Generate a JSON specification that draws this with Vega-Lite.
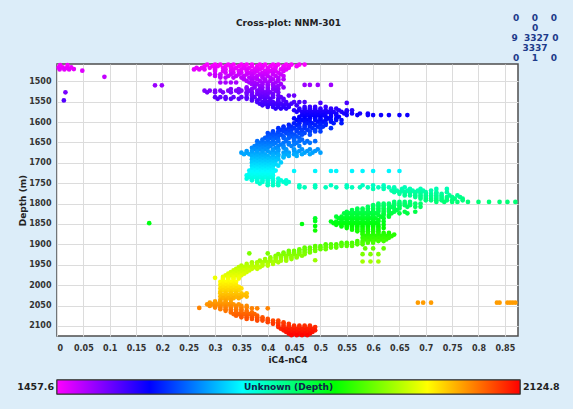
{
"$schema":"https://vega.github.io/schema/vega-lite/v6.json",
"background":"#dcedf9",
"padding":{"left":16,"top":13,"right":12,"bottom":15},
"title":{"text":"Cross-plot: NNM-301","anchor":"middle","offset":-15,"font":"DejaVu Sans","fontSize":9,"fontWeight":"bold","color":"#222222"},
"bounds":"flush",
"spacing":44,
"vconcat":[
{
"width":461,"height":272,
"title":{"text":["0\u00a0\u00a0\u00a0\u00a00\u00a0\u00a0\u00a0\u00a00","0","9\u00a0\u00a03327\u00a00","3337","0\u00a0\u00a0\u00a0\u00a01\u00a0\u00a0\u00a0\u00a00"],"anchor":"end","align":"center","dx":17,"offset":-1,"lineHeight":10,"font":"DejaVu Sans","fontSize":9,"fontWeight":"bold","color":"#1d3a8a"},
"data":{"values":[
{"x":0.006,"d":1460},{"x":0.02,"d":1460},{"x":0.003,"d":1466},{"x":0.011,"d":1466},{"x":0.019,"d":1467},{"x":0.027,"d":1466},{"x":0.005,"d":1471},{"x":0.014,"d":1471},{"x":0.023,"d":1471},{"x":0.032,"d":1470},{"x":0.048,"d":1474},{"x":0.09,"d":1489},{"x":0.016,"d":1527},{"x":0.013,"d":1547},{"x":0.186,"d":1510},{"x":0.199,"d":1510},
{"x":0.285,"d":1459},{"x":0.3,"d":1459},{"x":0.31,"d":1459},{"x":0.325,"d":1459},{"x":0.335,"d":1459},{"x":0.35,"d":1459},{"x":0.36,"d":1459},{"x":0.37,"d":1459},{"x":0.385,"d":1459},{"x":0.395,"d":1459},{"x":0.41,"d":1459},{"x":0.42,"d":1459},{"x":0.435,"d":1459},{"x":0.445,"d":1459},{"x":0.46,"d":1459},{"x":0.47,"d":1459},
{"x":0.28,"d":1463},{"x":0.295,"d":1463},{"x":0.305,"d":1463},{"x":0.32,"d":1463},{"x":0.33,"d":1463},{"x":0.345,"d":1463},{"x":0.355,"d":1463},{"x":0.37,"d":1463},{"x":0.38,"d":1463},{"x":0.39,"d":1463},{"x":0.405,"d":1463},{"x":0.415,"d":1463},{"x":0.43,"d":1463},{"x":0.44,"d":1463},{"x":0.455,"d":1463},
{"x":0.265,"d":1467},{"x":0.275,"d":1467},{"x":0.29,"d":1467},{"x":0.3,"d":1467},{"x":0.315,"d":1467},{"x":0.33,"d":1467},{"x":0.34,"d":1467},{"x":0.355,"d":1467},{"x":0.365,"d":1467},{"x":0.38,"d":1467},{"x":0.39,"d":1467},{"x":0.4,"d":1467},{"x":0.415,"d":1467},{"x":0.43,"d":1467},{"x":0.44,"d":1467},
{"x":0.26,"d":1471},{"x":0.27,"d":1471},{"x":0.28,"d":1471},{"x":0.3,"d":1471},{"x":0.32,"d":1471},{"x":0.335,"d":1471},{"x":0.35,"d":1471},{"x":0.36,"d":1471},{"x":0.375,"d":1471},{"x":0.385,"d":1471},{"x":0.4,"d":1471},{"x":0.41,"d":1471},{"x":0.425,"d":1471},{"x":0.435,"d":1471},
{"x":0.3,"d":1475},{"x":0.315,"d":1475},{"x":0.33,"d":1475},{"x":0.345,"d":1475},{"x":0.36,"d":1475},{"x":0.37,"d":1475},{"x":0.38,"d":1475},{"x":0.395,"d":1475},{"x":0.405,"d":1475},{"x":0.415,"d":1475},{"x":0.43,"d":1475},
{"x":0.32,"d":1479},{"x":0.335,"d":1479},{"x":0.35,"d":1479},{"x":0.365,"d":1479},{"x":0.375,"d":1479},{"x":0.39,"d":1479},{"x":0.4,"d":1479},{"x":0.41,"d":1479},{"x":0.42,"d":1479},
{"x":0.29,"d":1483},{"x":0.3,"d":1483},{"x":0.31,"d":1483},{"x":0.33,"d":1483},{"x":0.345,"d":1483},{"x":0.36,"d":1483},{"x":0.37,"d":1483},{"x":0.385,"d":1483},{"x":0.395,"d":1483},{"x":0.41,"d":1483},{"x":0.425,"d":1483},
{"x":0.3,"d":1487},{"x":0.31,"d":1487},{"x":0.325,"d":1487},{"x":0.34,"d":1487},{"x":0.355,"d":1487},{"x":0.37,"d":1487},{"x":0.38,"d":1487},{"x":0.39,"d":1487},{"x":0.4,"d":1487},{"x":0.415,"d":1487},{"x":0.43,"d":1487},
{"x":0.31,"d":1491},{"x":0.32,"d":1491},{"x":0.335,"d":1491},{"x":0.35,"d":1491},{"x":0.365,"d":1491},{"x":0.375,"d":1491},{"x":0.39,"d":1491},{"x":0.405,"d":1491},{"x":0.42,"d":1491},
{"x":0.355,"d":1495},{"x":0.37,"d":1495},{"x":0.38,"d":1495},{"x":0.395,"d":1495},{"x":0.41,"d":1495},{"x":0.42,"d":1495},{"x":0.43,"d":1495},
{"x":0.36,"d":1499},{"x":0.37,"d":1499},{"x":0.385,"d":1499},{"x":0.395,"d":1499},{"x":0.405,"d":1499},{"x":0.42,"d":1499},
{"x":0.31,"d":1503},{"x":0.32,"d":1503},{"x":0.33,"d":1503},{"x":0.34,"d":1503},{"x":0.365,"d":1503},{"x":0.375,"d":1503},{"x":0.39,"d":1503},{"x":0.4,"d":1503},{"x":0.415,"d":1503},
{"x":0.37,"d":1507},{"x":0.38,"d":1507},{"x":0.39,"d":1507},{"x":0.4,"d":1507},{"x":0.41,"d":1507},{"x":0.425,"d":1507},{"x":0.47,"d":1509},{"x":0.48,"d":1509},{"x":0.495,"d":1509},{"x":0.52,"d":1509},
{"x":0.375,"d":1511},{"x":0.385,"d":1511},{"x":0.4,"d":1511},{"x":0.41,"d":1511},{"x":0.42,"d":1511},
{"x":0.36,"d":1515},{"x":0.375,"d":1515},{"x":0.39,"d":1515},{"x":0.4,"d":1515},{"x":0.415,"d":1515},{"x":0.43,"d":1515},
{"x":0.33,"d":1519},{"x":0.345,"d":1519},{"x":0.36,"d":1519},{"x":0.37,"d":1519},{"x":0.385,"d":1519},{"x":0.4,"d":1519},{"x":0.41,"d":1519},{"x":0.42,"d":1519},
{"x":0.28,"d":1523},{"x":0.29,"d":1523},{"x":0.3,"d":1523},{"x":0.31,"d":1523},{"x":0.325,"d":1523},{"x":0.34,"d":1523},{"x":0.35,"d":1523},{"x":0.365,"d":1523},{"x":0.38,"d":1523},{"x":0.39,"d":1523},{"x":0.4,"d":1523},{"x":0.415,"d":1523},
{"x":0.285,"d":1527},{"x":0.3,"d":1527},{"x":0.315,"d":1527},{"x":0.33,"d":1527},{"x":0.345,"d":1527},{"x":0.36,"d":1527},{"x":0.37,"d":1527},{"x":0.385,"d":1527},{"x":0.395,"d":1527},{"x":0.405,"d":1527},{"x":0.42,"d":1527},
{"x":0.36,"d":1531},{"x":0.37,"d":1531},{"x":0.38,"d":1531},{"x":0.39,"d":1531},{"x":0.4,"d":1531},{"x":0.41,"d":1531},
{"x":0.37,"d":1535},{"x":0.385,"d":1535},{"x":0.395,"d":1535},{"x":0.41,"d":1535},{"x":0.42,"d":1535},{"x":0.44,"d":1535},{"x":0.45,"d":1535},
{"x":0.3,"d":1539},{"x":0.31,"d":1539},{"x":0.32,"d":1539},{"x":0.335,"d":1539},{"x":0.35,"d":1539},{"x":0.36,"d":1539},{"x":0.375,"d":1539},{"x":0.39,"d":1539},{"x":0.4,"d":1539},{"x":0.41,"d":1539},{"x":0.425,"d":1539},
{"x":0.305,"d":1543},{"x":0.32,"d":1543},{"x":0.33,"d":1543},{"x":0.345,"d":1543},{"x":0.36,"d":1543},{"x":0.37,"d":1543},{"x":0.385,"d":1543},{"x":0.395,"d":1543},{"x":0.405,"d":1543},{"x":0.42,"d":1543},{"x":0.43,"d":1543},
{"x":0.37,"d":1547},{"x":0.38,"d":1547},{"x":0.395,"d":1547},{"x":0.405,"d":1547},{"x":0.42,"d":1547},{"x":0.43,"d":1547},
{"x":0.38,"d":1551},{"x":0.39,"d":1551},{"x":0.4,"d":1551},{"x":0.41,"d":1551},{"x":0.42,"d":1551},{"x":0.435,"d":1551},{"x":0.45,"d":1551},{"x":0.46,"d":1551},{"x":0.47,"d":1551},{"x":0.5,"d":1553},{"x":0.55,"d":1553},
{"x":0.385,"d":1555},{"x":0.395,"d":1555},{"x":0.405,"d":1555},{"x":0.415,"d":1555},{"x":0.425,"d":1555},{"x":0.435,"d":1555},{"x":0.445,"d":1555},
{"x":0.39,"d":1559},{"x":0.4,"d":1559},{"x":0.41,"d":1559},{"x":0.42,"d":1559},{"x":0.43,"d":1559},{"x":0.44,"d":1559},{"x":0.455,"d":1559},
{"x":0.4,"d":1563},{"x":0.41,"d":1563},{"x":0.42,"d":1563},{"x":0.43,"d":1563},{"x":0.44,"d":1563},{"x":0.47,"d":1563},{"x":0.48,"d":1563},{"x":0.49,"d":1563},{"x":0.51,"d":1563},
{"x":0.415,"d":1567},{"x":0.425,"d":1567},{"x":0.435,"d":1567},{"x":0.46,"d":1567},{"x":0.47,"d":1567},{"x":0.48,"d":1567},{"x":0.49,"d":1567},{"x":0.5,"d":1567},{"x":0.52,"d":1567},{"x":0.53,"d":1567},
{"x":0.45,"d":1571},{"x":0.46,"d":1571},{"x":0.47,"d":1571},{"x":0.48,"d":1571},{"x":0.49,"d":1571},{"x":0.5,"d":1571},{"x":0.51,"d":1571},{"x":0.52,"d":1571},{"x":0.535,"d":1571},{"x":0.55,"d":1571},{"x":0.56,"d":1571},
{"x":0.455,"d":1575},{"x":0.465,"d":1575},{"x":0.475,"d":1575},{"x":0.485,"d":1575},{"x":0.495,"d":1575},{"x":0.505,"d":1575},{"x":0.515,"d":1575},{"x":0.525,"d":1575},{"x":0.54,"d":1575},{"x":0.55,"d":1575},
{"x":0.47,"d":1579},{"x":0.48,"d":1579},{"x":0.49,"d":1579},{"x":0.5,"d":1579},{"x":0.51,"d":1579},{"x":0.52,"d":1579},{"x":0.53,"d":1579},{"x":0.545,"d":1579},{"x":0.56,"d":1579},{"x":0.575,"d":1579},{"x":0.59,"d":1579},
{"x":0.465,"d":1583},{"x":0.475,"d":1583},{"x":0.485,"d":1583},{"x":0.495,"d":1583},{"x":0.505,"d":1583},{"x":0.52,"d":1583},{"x":0.53,"d":1583},{"x":0.55,"d":1583},{"x":0.57,"d":1583},{"x":0.59,"d":1583},{"x":0.6,"d":1583},{"x":0.615,"d":1583},{"x":0.63,"d":1583},{"x":0.65,"d":1583},{"x":0.665,"d":1583},
{"x":0.46,"d":1587},{"x":0.47,"d":1587},{"x":0.48,"d":1587},{"x":0.49,"d":1587},{"x":0.5,"d":1587},{"x":0.51,"d":1587},{"x":0.52,"d":1587},{"x":0.535,"d":1587},
{"x":0.45,"d":1591},{"x":0.46,"d":1591},{"x":0.47,"d":1591},{"x":0.48,"d":1591},{"x":0.49,"d":1591},{"x":0.5,"d":1591},{"x":0.515,"d":1591},{"x":0.53,"d":1591},
{"x":0.455,"d":1595},{"x":0.465,"d":1595},{"x":0.475,"d":1595},{"x":0.49,"d":1595},{"x":0.5,"d":1595},{"x":0.51,"d":1595},{"x":0.52,"d":1595},{"x":0.53,"d":1595},{"x":0.54,"d":1595},
{"x":0.46,"d":1599},{"x":0.47,"d":1599},{"x":0.48,"d":1599},{"x":0.495,"d":1599},{"x":0.505,"d":1599},{"x":0.52,"d":1599},
{"x":0.45,"d":1603},{"x":0.46,"d":1603},{"x":0.475,"d":1603},{"x":0.485,"d":1603},{"x":0.5,"d":1603},{"x":0.51,"d":1603},{"x":0.525,"d":1603},{"x":0.54,"d":1603},
{"x":0.44,"d":1607},{"x":0.455,"d":1607},{"x":0.47,"d":1607},{"x":0.48,"d":1607},{"x":0.49,"d":1607},{"x":0.5,"d":1607},{"x":0.51,"d":1607},
{"x":0.43,"d":1611},{"x":0.445,"d":1611},{"x":0.46,"d":1611},{"x":0.47,"d":1611},{"x":0.48,"d":1611},{"x":0.495,"d":1611},{"x":0.505,"d":1611},
{"x":0.42,"d":1615},{"x":0.43,"d":1615},{"x":0.44,"d":1615},{"x":0.45,"d":1615},{"x":0.46,"d":1615},{"x":0.47,"d":1615},{"x":0.485,"d":1615},{"x":0.5,"d":1615},{"x":0.52,"d":1615},
{"x":0.425,"d":1619},{"x":0.435,"d":1619},{"x":0.445,"d":1619},{"x":0.455,"d":1619},{"x":0.465,"d":1619},{"x":0.475,"d":1619},{"x":0.49,"d":1619},
{"x":0.41,"d":1623},{"x":0.42,"d":1623},{"x":0.43,"d":1623},{"x":0.44,"d":1623},{"x":0.455,"d":1623},{"x":0.465,"d":1623},{"x":0.48,"d":1623},{"x":0.49,"d":1623},{"x":0.5,"d":1623},
{"x":0.4,"d":1627},{"x":0.41,"d":1627},{"x":0.42,"d":1627},{"x":0.435,"d":1627},{"x":0.445,"d":1627},{"x":0.46,"d":1627},{"x":0.47,"d":1627},
{"x":0.405,"d":1631},{"x":0.415,"d":1631},{"x":0.425,"d":1631},{"x":0.44,"d":1631},{"x":0.45,"d":1631},{"x":0.465,"d":1631},{"x":0.48,"d":1631},
{"x":0.4,"d":1635},{"x":0.41,"d":1635},{"x":0.42,"d":1635},{"x":0.43,"d":1635},{"x":0.445,"d":1635},{"x":0.455,"d":1635},
{"x":0.395,"d":1639},{"x":0.405,"d":1639},{"x":0.415,"d":1639},{"x":0.43,"d":1639},{"x":0.44,"d":1639},{"x":0.45,"d":1639},{"x":0.46,"d":1639},
{"x":0.39,"d":1643},{"x":0.4,"d":1643},{"x":0.41,"d":1643},{"x":0.42,"d":1643},{"x":0.435,"d":1643},{"x":0.45,"d":1643},{"x":0.465,"d":1643},
{"x":0.38,"d":1647},{"x":0.39,"d":1647},{"x":0.4,"d":1647},{"x":0.41,"d":1647},{"x":0.42,"d":1647},{"x":0.435,"d":1647},{"x":0.45,"d":1647},{"x":0.46,"d":1647},{"x":0.475,"d":1647},{"x":0.49,"d":1647},
{"x":0.385,"d":1651},{"x":0.395,"d":1651},{"x":0.405,"d":1651},{"x":0.415,"d":1651},{"x":0.43,"d":1651},{"x":0.44,"d":1651},{"x":0.455,"d":1651},{"x":0.47,"d":1651},{"x":0.48,"d":1651},
{"x":0.38,"d":1655},{"x":0.39,"d":1655},{"x":0.4,"d":1655},{"x":0.41,"d":1655},{"x":0.425,"d":1655},{"x":0.44,"d":1655},{"x":0.45,"d":1655},
{"x":0.375,"d":1659},{"x":0.385,"d":1659},{"x":0.395,"d":1659},{"x":0.405,"d":1659},{"x":0.42,"d":1659},{"x":0.43,"d":1659},{"x":0.445,"d":1659},{"x":0.46,"d":1659},
{"x":0.37,"d":1663},{"x":0.38,"d":1663},{"x":0.39,"d":1663},{"x":0.4,"d":1663},{"x":0.415,"d":1663},{"x":0.43,"d":1663},
{"x":0.375,"d":1667},{"x":0.385,"d":1667},{"x":0.395,"d":1667},{"x":0.41,"d":1667},{"x":0.42,"d":1667},{"x":0.435,"d":1667},{"x":0.45,"d":1667},{"x":0.465,"d":1667},{"x":0.48,"d":1667},{"x":0.495,"d":1667},
{"x":0.36,"d":1671},{"x":0.37,"d":1671},{"x":0.38,"d":1671},{"x":0.39,"d":1671},{"x":0.4,"d":1671},{"x":0.41,"d":1671},{"x":0.42,"d":1671},{"x":0.435,"d":1671},{"x":0.45,"d":1671},{"x":0.46,"d":1671},{"x":0.475,"d":1671},{"x":0.49,"d":1671},
{"x":0.35,"d":1675},{"x":0.36,"d":1675},{"x":0.37,"d":1675},{"x":0.38,"d":1675},{"x":0.39,"d":1675},{"x":0.405,"d":1675},{"x":0.415,"d":1675},{"x":0.43,"d":1675},{"x":0.44,"d":1675},{"x":0.455,"d":1675},{"x":0.47,"d":1675},{"x":0.485,"d":1675},{"x":0.5,"d":1675},
{"x":0.355,"d":1679},{"x":0.365,"d":1679},{"x":0.375,"d":1679},{"x":0.385,"d":1679},{"x":0.395,"d":1679},{"x":0.41,"d":1679},{"x":0.42,"d":1679},{"x":0.435,"d":1679},{"x":0.45,"d":1679},{"x":0.465,"d":1679},{"x":0.48,"d":1679},
{"x":0.37,"d":1683},{"x":0.38,"d":1683},{"x":0.39,"d":1683},{"x":0.4,"d":1683},{"x":0.41,"d":1683},{"x":0.42,"d":1683},{"x":0.43,"d":1683},{"x":0.44,"d":1683},{"x":0.455,"d":1683},
{"x":0.375,"d":1687},{"x":0.385,"d":1687},{"x":0.395,"d":1687},{"x":0.405,"d":1687},{"x":0.415,"d":1687},{"x":0.43,"d":1687},
{"x":0.37,"d":1691},{"x":0.38,"d":1691},{"x":0.39,"d":1691},{"x":0.4,"d":1691},{"x":0.41,"d":1691},{"x":0.42,"d":1691},
{"x":0.375,"d":1695},{"x":0.385,"d":1695},{"x":0.395,"d":1695},{"x":0.405,"d":1695},{"x":0.415,"d":1695},
{"x":0.37,"d":1699},{"x":0.38,"d":1699},{"x":0.39,"d":1699},{"x":0.4,"d":1699},{"x":0.41,"d":1699},{"x":0.425,"d":1699},
{"x":0.375,"d":1703},{"x":0.385,"d":1703},{"x":0.395,"d":1703},{"x":0.405,"d":1703},{"x":0.415,"d":1703},
{"x":0.37,"d":1707},{"x":0.38,"d":1707},{"x":0.39,"d":1707},{"x":0.4,"d":1707},{"x":0.41,"d":1707},{"x":0.42,"d":1707},
{"x":0.375,"d":1711},{"x":0.385,"d":1711},{"x":0.395,"d":1711},{"x":0.405,"d":1711},
{"x":0.37,"d":1715},{"x":0.38,"d":1715},{"x":0.39,"d":1715},{"x":0.4,"d":1715},{"x":0.41,"d":1715},
{"x":0.365,"d":1719},{"x":0.375,"d":1719},{"x":0.385,"d":1719},{"x":0.395,"d":1719},{"x":0.405,"d":1719},{"x":0.415,"d":1719},{"x":0.45,"d":1720},{"x":0.49,"d":1720},{"x":0.52,"d":1720},{"x":0.53,"d":1720},{"x":0.56,"d":1720},{"x":0.58,"d":1720},{"x":0.6,"d":1720},{"x":0.63,"d":1720},{"x":0.65,"d":1720},
{"x":0.37,"d":1723},{"x":0.38,"d":1723},{"x":0.39,"d":1723},{"x":0.4,"d":1723},{"x":0.41,"d":1723},
{"x":0.365,"d":1727},{"x":0.375,"d":1727},{"x":0.385,"d":1727},{"x":0.395,"d":1727},{"x":0.405,"d":1727},
{"x":0.36,"d":1731},{"x":0.37,"d":1731},{"x":0.38,"d":1731},{"x":0.39,"d":1731},{"x":0.4,"d":1731},{"x":0.41,"d":1731},
{"x":0.365,"d":1735},{"x":0.375,"d":1735},{"x":0.385,"d":1735},{"x":0.395,"d":1735},{"x":0.405,"d":1735},
{"x":0.36,"d":1739},{"x":0.37,"d":1739},{"x":0.38,"d":1739},{"x":0.39,"d":1739},{"x":0.4,"d":1739},{"x":0.41,"d":1739},{"x":0.42,"d":1739},
{"x":0.37,"d":1743},{"x":0.38,"d":1743},{"x":0.39,"d":1743},{"x":0.4,"d":1743},{"x":0.41,"d":1743},{"x":0.425,"d":1743},{"x":0.435,"d":1743},
{"x":0.38,"d":1747},{"x":0.39,"d":1747},{"x":0.4,"d":1747},{"x":0.41,"d":1747},{"x":0.42,"d":1747},{"x":0.43,"d":1747},{"x":0.44,"d":1747},
{"x":0.385,"d":1751},{"x":0.4,"d":1751},{"x":0.41,"d":1751},{"x":0.42,"d":1751},{"x":0.435,"d":1751},
{"x":0.4,"d":1755},{"x":0.41,"d":1755},{"x":0.42,"d":1755},{"x":0.46,"d":1755},{"x":0.49,"d":1755},{"x":0.52,"d":1755},{"x":0.55,"d":1755},{"x":0.58,"d":1755},{"x":0.6,"d":1755},{"x":0.62,"d":1755},
{"x":0.46,"d":1760},{"x":0.47,"d":1760},{"x":0.49,"d":1760},{"x":0.51,"d":1760},{"x":0.53,"d":1760},{"x":0.55,"d":1760},{"x":0.56,"d":1760},{"x":0.575,"d":1760},{"x":0.59,"d":1760},{"x":0.61,"d":1760},{"x":0.62,"d":1760},{"x":0.63,"d":1760},{"x":0.64,"d":1760},{"x":0.66,"d":1760},
{"x":0.6,"d":1764},{"x":0.62,"d":1764},{"x":0.64,"d":1764},{"x":0.655,"d":1764},{"x":0.67,"d":1764},{"x":0.69,"d":1764},{"x":0.72,"d":1764},{"x":0.74,"d":1764},
{"x":0.635,"d":1768},{"x":0.645,"d":1768},{"x":0.655,"d":1768},{"x":0.665,"d":1768},{"x":0.675,"d":1768},{"x":0.685,"d":1768},{"x":0.695,"d":1768},{"x":0.71,"d":1768},
{"x":0.64,"d":1772},{"x":0.65,"d":1772},{"x":0.66,"d":1772},{"x":0.67,"d":1772},{"x":0.68,"d":1772},{"x":0.69,"d":1772},{"x":0.7,"d":1772},{"x":0.72,"d":1772},{"x":0.74,"d":1772},
{"x":0.65,"d":1776},{"x":0.66,"d":1776},{"x":0.67,"d":1776},{"x":0.68,"d":1776},{"x":0.69,"d":1776},{"x":0.7,"d":1776},{"x":0.71,"d":1776},{"x":0.72,"d":1776},{"x":0.73,"d":1776},
{"x":0.66,"d":1780},{"x":0.67,"d":1780},{"x":0.68,"d":1780},{"x":0.69,"d":1780},{"x":0.7,"d":1780},{"x":0.71,"d":1780},{"x":0.72,"d":1780},{"x":0.73,"d":1780},{"x":0.745,"d":1780},{"x":0.76,"d":1780},
{"x":0.68,"d":1784},{"x":0.69,"d":1784},{"x":0.7,"d":1784},{"x":0.71,"d":1784},{"x":0.72,"d":1784},{"x":0.73,"d":1784},{"x":0.74,"d":1784},{"x":0.75,"d":1784},{"x":0.765,"d":1784},
{"x":0.69,"d":1788},{"x":0.7,"d":1788},{"x":0.71,"d":1788},{"x":0.72,"d":1788},{"x":0.73,"d":1788},{"x":0.74,"d":1788},{"x":0.755,"d":1788},{"x":0.77,"d":1788},
{"x":0.7,"d":1792},{"x":0.71,"d":1792},{"x":0.72,"d":1792},{"x":0.73,"d":1792},{"x":0.74,"d":1792},{"x":0.75,"d":1792},{"x":0.77,"d":1792},
{"x":0.64,"d":1796},{"x":0.65,"d":1796},{"x":0.66,"d":1796},{"x":0.67,"d":1796},{"x":0.72,"d":1796},{"x":0.735,"d":1796},{"x":0.75,"d":1796},{"x":0.76,"d":1796},{"x":0.78,"d":1796},{"x":0.8,"d":1796},{"x":0.82,"d":1796},{"x":0.84,"d":1796},{"x":0.855,"d":1796},{"x":0.87,"d":1796},
{"x":0.61,"d":1800},{"x":0.62,"d":1800},{"x":0.63,"d":1800},{"x":0.64,"d":1800},{"x":0.65,"d":1800},{"x":0.66,"d":1800},{"x":0.67,"d":1800},{"x":0.68,"d":1800},{"x":0.69,"d":1800},
{"x":0.6,"d":1804},{"x":0.61,"d":1804},{"x":0.62,"d":1804},{"x":0.63,"d":1804},{"x":0.64,"d":1804},{"x":0.65,"d":1804},{"x":0.66,"d":1804},{"x":0.67,"d":1804},
{"x":0.59,"d":1808},{"x":0.6,"d":1808},{"x":0.61,"d":1808},{"x":0.62,"d":1808},{"x":0.635,"d":1808},{"x":0.65,"d":1808},{"x":0.665,"d":1808},{"x":0.68,"d":1808},{"x":0.69,"d":1808},
{"x":0.57,"d":1812},{"x":0.58,"d":1812},{"x":0.59,"d":1812},{"x":0.6,"d":1812},{"x":0.61,"d":1812},{"x":0.62,"d":1812},{"x":0.63,"d":1812},{"x":0.64,"d":1812},{"x":0.65,"d":1812},
{"x":0.56,"d":1816},{"x":0.57,"d":1816},{"x":0.58,"d":1816},{"x":0.59,"d":1816},{"x":0.6,"d":1816},{"x":0.61,"d":1816},{"x":0.62,"d":1816},{"x":0.63,"d":1816},{"x":0.645,"d":1816},
{"x":0.55,"d":1820},{"x":0.56,"d":1820},{"x":0.57,"d":1820},{"x":0.58,"d":1820},{"x":0.59,"d":1820},{"x":0.6,"d":1820},{"x":0.61,"d":1820},{"x":0.62,"d":1820},{"x":0.63,"d":1820},{"x":0.64,"d":1820},{"x":0.66,"d":1820},{"x":0.68,"d":1820},
{"x":0.545,"d":1824},{"x":0.555,"d":1824},{"x":0.565,"d":1824},{"x":0.575,"d":1824},{"x":0.585,"d":1824},{"x":0.595,"d":1824},{"x":0.605,"d":1824},{"x":0.62,"d":1824},{"x":0.635,"d":1824},{"x":0.65,"d":1824},{"x":0.665,"d":1824},
{"x":0.55,"d":1828},{"x":0.56,"d":1828},{"x":0.57,"d":1828},{"x":0.58,"d":1828},{"x":0.59,"d":1828},{"x":0.6,"d":1828},{"x":0.61,"d":1828},{"x":0.62,"d":1828},{"x":0.63,"d":1828},
{"x":0.53,"d":1832},{"x":0.54,"d":1832},{"x":0.55,"d":1832},{"x":0.56,"d":1832},{"x":0.57,"d":1832},{"x":0.58,"d":1832},{"x":0.59,"d":1832},{"x":0.6,"d":1832},{"x":0.615,"d":1832},{"x":0.63,"d":1832},{"x":0.49,"d":1836},
{"x":0.535,"d":1836},{"x":0.545,"d":1836},{"x":0.555,"d":1836},{"x":0.565,"d":1836},{"x":0.575,"d":1836},{"x":0.585,"d":1836},{"x":0.595,"d":1836},{"x":0.605,"d":1836},{"x":0.62,"d":1836},
{"x":0.54,"d":1840},{"x":0.55,"d":1840},{"x":0.56,"d":1840},{"x":0.57,"d":1840},{"x":0.58,"d":1840},{"x":0.59,"d":1840},{"x":0.6,"d":1840},{"x":0.61,"d":1840},{"x":0.49,"d":1843},
{"x":0.52,"d":1844},{"x":0.53,"d":1844},{"x":0.54,"d":1844},{"x":0.55,"d":1844},{"x":0.56,"d":1844},{"x":0.57,"d":1844},{"x":0.58,"d":1844},{"x":0.59,"d":1844},{"x":0.6,"d":1844},{"x":0.61,"d":1844},{"x":0.62,"d":1844},
{"x":0.525,"d":1848},{"x":0.535,"d":1848},{"x":0.545,"d":1848},{"x":0.555,"d":1848},{"x":0.565,"d":1848},{"x":0.575,"d":1848},{"x":0.585,"d":1848},{"x":0.595,"d":1848},{"x":0.605,"d":1848},{"x":0.465,"d":1850},{"x":0.175,"d":1848},
{"x":0.53,"d":1852},{"x":0.54,"d":1852},{"x":0.55,"d":1852},{"x":0.56,"d":1852},{"x":0.57,"d":1852},{"x":0.58,"d":1852},{"x":0.59,"d":1852},{"x":0.6,"d":1852},{"x":0.61,"d":1852},{"x":0.62,"d":1852},{"x":0.49,"d":1855},
{"x":0.54,"d":1856},{"x":0.55,"d":1856},{"x":0.56,"d":1856},{"x":0.57,"d":1856},{"x":0.58,"d":1856},{"x":0.59,"d":1856},{"x":0.6,"d":1856},{"x":0.61,"d":1856},
{"x":0.55,"d":1860},{"x":0.56,"d":1860},{"x":0.57,"d":1860},{"x":0.58,"d":1860},{"x":0.59,"d":1860},{"x":0.6,"d":1860},{"x":0.61,"d":1860},{"x":0.62,"d":1860},{"x":0.49,"d":1866},
{"x":0.56,"d":1864},{"x":0.57,"d":1864},{"x":0.58,"d":1864},{"x":0.59,"d":1864},{"x":0.6,"d":1864},{"x":0.61,"d":1864},
{"x":0.57,"d":1868},{"x":0.58,"d":1868},{"x":0.59,"d":1868},{"x":0.6,"d":1868},{"x":0.61,"d":1868},
{"x":0.58,"d":1872},{"x":0.59,"d":1872},{"x":0.6,"d":1872},{"x":0.61,"d":1872},{"x":0.62,"d":1872},{"x":0.63,"d":1872},
{"x":0.58,"d":1876},{"x":0.59,"d":1876},{"x":0.6,"d":1876},{"x":0.61,"d":1876},{"x":0.62,"d":1876},{"x":0.63,"d":1876},{"x":0.64,"d":1876},
{"x":0.585,"d":1880},{"x":0.595,"d":1880},{"x":0.605,"d":1880},{"x":0.615,"d":1880},{"x":0.625,"d":1880},{"x":0.635,"d":1880},
{"x":0.58,"d":1884},{"x":0.59,"d":1884},{"x":0.6,"d":1884},{"x":0.61,"d":1884},{"x":0.62,"d":1884},{"x":0.63,"d":1884},
{"x":0.585,"d":1888},{"x":0.595,"d":1888},{"x":0.605,"d":1888},{"x":0.615,"d":1888},{"x":0.625,"d":1888},
{"x":0.57,"d":1892},{"x":0.58,"d":1892},{"x":0.59,"d":1892},{"x":0.6,"d":1892},{"x":0.61,"d":1892},{"x":0.62,"d":1892},
{"x":0.54,"d":1896},{"x":0.55,"d":1896},{"x":0.56,"d":1896},{"x":0.57,"d":1896},{"x":0.58,"d":1896},{"x":0.59,"d":1896},{"x":0.6,"d":1896},
{"x":0.51,"d":1900},{"x":0.52,"d":1900},{"x":0.53,"d":1900},{"x":0.54,"d":1900},{"x":0.55,"d":1900},{"x":0.56,"d":1900},{"x":0.57,"d":1900},{"x":0.58,"d":1900},
{"x":0.49,"d":1904},{"x":0.5,"d":1904},{"x":0.51,"d":1904},{"x":0.52,"d":1904},{"x":0.53,"d":1904},{"x":0.54,"d":1904},{"x":0.55,"d":1904},{"x":0.56,"d":1904},
{"x":0.47,"d":1908},{"x":0.48,"d":1908},{"x":0.49,"d":1908},{"x":0.5,"d":1908},{"x":0.51,"d":1908},{"x":0.52,"d":1908},{"x":0.53,"d":1908},{"x":0.585,"d":1910},{"x":0.6,"d":1910},{"x":0.62,"d":1910},
{"x":0.46,"d":1912},{"x":0.47,"d":1912},{"x":0.48,"d":1912},{"x":0.49,"d":1912},{"x":0.5,"d":1912},{"x":0.51,"d":1912},
{"x":0.44,"d":1916},{"x":0.45,"d":1916},{"x":0.46,"d":1916},{"x":0.47,"d":1916},{"x":0.48,"d":1916},{"x":0.49,"d":1916},
{"x":0.43,"d":1920},{"x":0.44,"d":1920},{"x":0.45,"d":1920},{"x":0.46,"d":1920},{"x":0.47,"d":1920},{"x":0.48,"d":1920},{"x":0.365,"d":1922},{"x":0.4,"d":1922},
{"x":0.42,"d":1924},{"x":0.43,"d":1924},{"x":0.44,"d":1924},{"x":0.45,"d":1924},{"x":0.46,"d":1924},{"x":0.47,"d":1924},{"x":0.58,"d":1924},{"x":0.595,"d":1924},{"x":0.61,"d":1924},
{"x":0.415,"d":1928},{"x":0.425,"d":1928},{"x":0.435,"d":1928},{"x":0.445,"d":1928},{"x":0.455,"d":1928},{"x":0.465,"d":1928},
{"x":0.405,"d":1932},{"x":0.415,"d":1932},{"x":0.425,"d":1932},{"x":0.435,"d":1932},{"x":0.445,"d":1932},{"x":0.455,"d":1932},
{"x":0.395,"d":1936},{"x":0.405,"d":1936},{"x":0.415,"d":1936},{"x":0.425,"d":1936},{"x":0.435,"d":1936},{"x":0.445,"d":1936},{"x":0.49,"d":1939},
{"x":0.385,"d":1940},{"x":0.395,"d":1940},{"x":0.405,"d":1940},{"x":0.415,"d":1940},{"x":0.425,"d":1940},{"x":0.435,"d":1940},{"x":0.58,"d":1942},{"x":0.595,"d":1942},{"x":0.61,"d":1942},
{"x":0.37,"d":1944},{"x":0.38,"d":1944},{"x":0.39,"d":1944},{"x":0.4,"d":1944},{"x":0.41,"d":1944},{"x":0.42,"d":1944},
{"x":0.36,"d":1948},{"x":0.37,"d":1948},{"x":0.38,"d":1948},{"x":0.39,"d":1948},{"x":0.4,"d":1948},{"x":0.41,"d":1948},
{"x":0.35,"d":1952},{"x":0.36,"d":1952},{"x":0.37,"d":1952},{"x":0.38,"d":1952},{"x":0.39,"d":1952},{"x":0.4,"d":1952},
{"x":0.345,"d":1956},{"x":0.355,"d":1956},{"x":0.365,"d":1956},{"x":0.375,"d":1956},{"x":0.385,"d":1956},
{"x":0.34,"d":1960},{"x":0.35,"d":1960},{"x":0.36,"d":1960},{"x":0.37,"d":1960},{"x":0.38,"d":1960},
{"x":0.335,"d":1964},{"x":0.345,"d":1964},{"x":0.355,"d":1964},{"x":0.365,"d":1964},
{"x":0.33,"d":1968},{"x":0.34,"d":1968},{"x":0.35,"d":1968},{"x":0.36,"d":1968},
{"x":0.325,"d":1972},{"x":0.335,"d":1972},{"x":0.345,"d":1972},{"x":0.355,"d":1972},
{"x":0.32,"d":1976},{"x":0.33,"d":1976},{"x":0.34,"d":1976},{"x":0.35,"d":1976},
{"x":0.315,"d":1980},{"x":0.325,"d":1980},{"x":0.335,"d":1980},{"x":0.345,"d":1980},{"x":0.3,"d":1982},
{"x":0.315,"d":1984},{"x":0.325,"d":1984},{"x":0.335,"d":1984},{"x":0.345,"d":1984},
{"x":0.315,"d":1988},{"x":0.325,"d":1988},{"x":0.335,"d":1988},
{"x":0.31,"d":1992},{"x":0.32,"d":1992},{"x":0.33,"d":1992},{"x":0.34,"d":1992},
{"x":0.315,"d":1996},{"x":0.325,"d":1996},{"x":0.335,"d":1996},
{"x":0.31,"d":2000},{"x":0.32,"d":2000},{"x":0.33,"d":2000},{"x":0.34,"d":2000},
{"x":0.315,"d":2004},{"x":0.325,"d":2004},{"x":0.335,"d":2004},{"x":0.345,"d":2004},
{"x":0.31,"d":2008},{"x":0.32,"d":2008},{"x":0.33,"d":2008},{"x":0.34,"d":2008},{"x":0.35,"d":2008},
{"x":0.315,"d":2012},{"x":0.325,"d":2012},{"x":0.335,"d":2012},{"x":0.345,"d":2012},
{"x":0.31,"d":2016},{"x":0.32,"d":2016},{"x":0.33,"d":2016},{"x":0.34,"d":2016},
{"x":0.31,"d":2020},{"x":0.32,"d":2020},{"x":0.33,"d":2020},{"x":0.34,"d":2020},{"x":0.35,"d":2020},{"x":0.36,"d":2020},
{"x":0.315,"d":2024},{"x":0.325,"d":2024},{"x":0.335,"d":2024},{"x":0.345,"d":2024},{"x":0.355,"d":2024},
{"x":0.31,"d":2028},{"x":0.32,"d":2028},{"x":0.33,"d":2028},{"x":0.34,"d":2028},{"x":0.35,"d":2028},{"x":0.36,"d":2028},
{"x":0.315,"d":2032},{"x":0.325,"d":2032},{"x":0.335,"d":2032},{"x":0.345,"d":2032},
{"x":0.31,"d":2036},{"x":0.32,"d":2036},{"x":0.33,"d":2036},
{"x":0.3,"d":2040},{"x":0.31,"d":2040},{"x":0.32,"d":2040},
{"x":0.29,"d":2043},{"x":0.3,"d":2043},{"x":0.31,"d":2043},{"x":0.32,"d":2043},{"x":0.33,"d":2043},{"x":0.685,"d":2043},{"x":0.695,"d":2043},{"x":0.71,"d":2043},{"x":0.835,"d":2043},{"x":0.84,"d":2043},{"x":0.855,"d":2043},{"x":0.86,"d":2043},{"x":0.865,"d":2043},{"x":0.87,"d":2043},
{"x":0.285,"d":2047},{"x":0.295,"d":2047},{"x":0.305,"d":2047},{"x":0.315,"d":2047},{"x":0.325,"d":2047},{"x":0.335,"d":2047},{"x":0.345,"d":2047},
{"x":0.29,"d":2051},{"x":0.3,"d":2051},{"x":0.31,"d":2051},{"x":0.32,"d":2051},{"x":0.33,"d":2051},{"x":0.34,"d":2051},{"x":0.35,"d":2051},{"x":0.36,"d":2051},
{"x":0.3,"d":2055},{"x":0.31,"d":2055},{"x":0.32,"d":2055},{"x":0.33,"d":2055},{"x":0.34,"d":2055},{"x":0.35,"d":2055},{"x":0.36,"d":2055},{"x":0.27,"d":2056},{"x":0.37,"d":2057},{"x":0.38,"d":2057},{"x":0.4,"d":2057},
{"x":0.31,"d":2059},{"x":0.32,"d":2059},{"x":0.33,"d":2059},{"x":0.34,"d":2059},{"x":0.35,"d":2059},
{"x":0.32,"d":2063},{"x":0.33,"d":2063},{"x":0.34,"d":2063},{"x":0.35,"d":2063},{"x":0.36,"d":2063},
{"x":0.33,"d":2067},{"x":0.34,"d":2067},{"x":0.35,"d":2067},{"x":0.36,"d":2067},{"x":0.37,"d":2067},
{"x":0.335,"d":2071},{"x":0.345,"d":2071},{"x":0.355,"d":2071},{"x":0.365,"d":2071},{"x":0.375,"d":2071},
{"x":0.34,"d":2075},{"x":0.35,"d":2075},{"x":0.36,"d":2075},{"x":0.37,"d":2075},{"x":0.38,"d":2075},
{"x":0.35,"d":2079},{"x":0.36,"d":2079},{"x":0.37,"d":2079},{"x":0.38,"d":2079},{"x":0.39,"d":2079},
{"x":0.36,"d":2083},{"x":0.37,"d":2083},{"x":0.38,"d":2083},{"x":0.39,"d":2083},{"x":0.4,"d":2083},
{"x":0.38,"d":2087},{"x":0.39,"d":2087},{"x":0.4,"d":2087},{"x":0.41,"d":2087},{"x":0.42,"d":2087},
{"x":0.4,"d":2091},{"x":0.41,"d":2091},{"x":0.42,"d":2091},{"x":0.43,"d":2091},
{"x":0.41,"d":2095},{"x":0.42,"d":2095},{"x":0.43,"d":2095},{"x":0.44,"d":2095},
{"x":0.42,"d":2099},{"x":0.43,"d":2099},{"x":0.44,"d":2099},{"x":0.45,"d":2099},{"x":0.46,"d":2099},{"x":0.47,"d":2099},{"x":0.48,"d":2099},
{"x":0.42,"d":2103},{"x":0.43,"d":2103},{"x":0.44,"d":2103},{"x":0.45,"d":2103},{"x":0.46,"d":2103},{"x":0.47,"d":2103},{"x":0.48,"d":2103},{"x":0.49,"d":2103},
{"x":0.425,"d":2107},{"x":0.435,"d":2107},{"x":0.445,"d":2107},{"x":0.455,"d":2107},{"x":0.465,"d":2107},{"x":0.475,"d":2107},{"x":0.485,"d":2107},
{"x":0.43,"d":2111},{"x":0.44,"d":2111},{"x":0.45,"d":2111},{"x":0.46,"d":2111},{"x":0.47,"d":2111},{"x":0.48,"d":2111},{"x":0.49,"d":2111},
{"x":0.435,"d":2115},{"x":0.445,"d":2115},{"x":0.455,"d":2115},{"x":0.465,"d":2115},{"x":0.475,"d":2115},{"x":0.485,"d":2115},
{"x":0.44,"d":2119},{"x":0.45,"d":2119},{"x":0.46,"d":2119},{"x":0.47,"d":2119},{"x":0.48,"d":2119},
{"x":0.445,"d":2123},{"x":0.455,"d":2123},{"x":0.465,"d":2123},{"x":0.475,"d":2123}
]},
"mark":{"type":"circle","size":22,"opacity":1},
"encoding":{
"x":{"field":"x","type":"quantitative","scale":{"domain":[0,0.875],"nice":false,"zero":false},"axis":{"title":"iC4-nC4","values":[0,0.05,0.1,0.15,0.2,0.25,0.3,0.35,0.4,0.45,0.5,0.55,0.6,0.65,0.7,0.75,0.8,0.85],"format":"~g","labelPadding":8,"titlePadding":3}},
"y":{"field":"d","type":"quantitative","scale":{"domain":[1457.6,2124.8],"reverse":true,"nice":false,"zero":false},"axis":{"title":"Depth (m)","values":[1500,1550,1600,1650,1700,1750,1800,1850,1900,1950,2000,2050,2100],"format":"d","labelPadding":6,"titlePadding":1}},
"color":{"field":"d","type":"quantitative","scale":{"domain":[1457.6,1591.04,1724.48,1857.92,1991.36,2124.8],"range":["#ff00ff","#0000ff","#00ffff","#00ff00","#ffff00","#ff0000"],"interpolate":"rgb"},"legend":null}
}
},
{
"width":463,"height":14,
"data":{"values":[{"lo":1457.6,"hi":2124.8,"mid":1791.2,"name":"Unknown (Depth)"}]},
"layer":[
{"mark":{"type":"rect","fill":{"gradient":"linear","x1":0,"x2":1,"y1":0,"y2":0,"stops":[{"offset":0,"color":"#ff00ff"},{"offset":0.2,"color":"#0000ff"},{"offset":0.4,"color":"#00ffff"},{"offset":0.6,"color":"#00ff00"},{"offset":0.8,"color":"#ffff00"},{"offset":1,"color":"#ff0000"}]},"stroke":"#333333","strokeWidth":1},
 "encoding":{"x":{"field":"lo","type":"quantitative","scale":{"domain":[1457.6,2124.8],"nice":false,"zero":false},"axis":null},"x2":{"field":"hi"}}},
{"mark":{"type":"text","font":"DejaVu Sans","fontSize":9,"fontWeight":"bold","color":"#10244a","baseline":"middle"},
 "encoding":{"x":{"field":"mid","type":"quantitative"},"text":{"field":"name"}}},
{"mark":{"type":"text","align":"right","dx":-3,"font":"DejaVu Sans","fontSize":9.5,"fontWeight":"bold","color":"#222222","baseline":"middle"},
 "encoding":{"x":{"field":"lo","type":"quantitative"},"text":{"field":"lo","type":"quantitative","format":".1f"}}},
{"mark":{"type":"text","align":"left","dx":3,"font":"DejaVu Sans","fontSize":9.5,"fontWeight":"bold","color":"#222222","baseline":"middle"},
 "encoding":{"x":{"field":"hi","type":"quantitative"},"text":{"field":"hi","type":"quantitative","format":".1f"}}}
]
}
],
"config":{
"view":{"stroke":"#4d4d4d","strokeWidth":1.5,"fill":"#ffffff"},
"axis":{"labelFont":"DejaVu Sans","labelFontWeight":"bold","labelFontSize":8,"labelColor":"#333333","titleFont":"DejaVu Sans","titleFontWeight":"bold","titleFontSize":9,"titleColor":"#222222","gridColor":"#dcdcdc","gridWidth":1,"domain":false,"ticks":false}
}
}
